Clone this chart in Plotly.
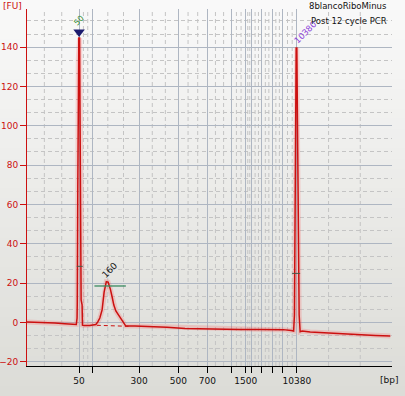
import plotly.graph_objects as go

# ---- data (migration time in s, fluorescence in FU) ----
time_s = [40.0, 44.1, 46.5, 48.8, 50.4, 51.48, 51.66, 51.71, 51.83, 51.94, 52.06, 52.25, 52.36,
          52.53, 52.60, 52.83, 52.92, 53.23, 54.63, 56.03, 56.49, 56.96, 57.49, 57.96, 58.24,
          58.47, 58.89, 59.17, 59.41, 59.83, 60.22, 60.69, 61.16, 61.62, 62.09, 62.56, 63.02,
          65.12, 68.62, 72.59, 76.79, 80.28, 84.95, 89.61, 94.28, 97.78, 99.64, 101.51, 101.86,
          102.09, 102.28, 102.49, 102.56, 102.68, 102.84, 102.96, 103.05, 103.21, 103.38,
          103.61, 104.08, 105.95, 108.28, 112.95, 117.61, 121.11, 124.61]
fu = [0.2, 0.0, -0.3, -0.7, -1.0, -1.1, 2.2, 10.3, 67.3, 133.5, 144.7, 144.7, 113.4,
      75.5, 11.4, 8.9, -1.4, -1.6, -1.6, -1.1, 0.2, 2.2, 6.3, 15.4, 19.5,
      20.7, 20.5, 19.0, 16.9, 12.9, 8.8, 5.8, 4.2, 2.7, 1.2, -0.6, -1.9,
      -1.9, -2.1, -2.5, -3.1, -3.3, -3.4, -3.6, -3.6, -3.7, -3.7, -4.2, -4.4,
      -4.4, 3.7, 62.2, 123.3, 139.6, 139.6, 102.9, 63.8, 62.2, 3.7,
      -4.8, -4.4, -4.9, -5.2, -5.7, -6.5, -6.7, -7.0]

ladder_time = [52.13, 55.16, 66.13, 75.27, 81.99, 87.68, 90.94, 92.34, 94.68, 97.15, 99.58, 102.84]
ladder_labels = ["50", "", "300", "500", "700", "", "1500", "", "", "", "", "10380"]

y_ticks = [-20, 0, 20, 40, 60, 80, 100, 120, 140]

# peak annotations
lower_marker_time, lower_marker_fu, lower_marker_label = 52.13, 147.7, "50"
peak_time, peak_fu, peak_label = 59.3, 26.6, "160"
upper_marker_time, upper_marker_fu, upper_marker_label = 104.9, 147.5, "10380"
region_x = [55.70, 63.02]
region_y = [18.5, 18.5]
base_x = [56.26, 63.63]
base_y = [-1.5, -2.0]
mark1_x = [51.59, 52.99]
mark1_y = [28.5, 28.5]
mark2_x = [101.74, 103.61]
mark2_y = [24.9, 24.9]

X_RANGE = [40, 125]
Y_RANGE = [-22.2, 159.4]

FONT = "DejaVu Sans"
RED = "#cc1010"

fig = go.Figure()

# glow + trace
fig.add_trace(go.Scatter(x=time_s, y=fu, mode="lines",
                         line=dict(color="rgba(255,70,70,0.2)", width=5), hoverinfo="skip"))
fig.add_trace(go.Scatter(x=time_s, y=fu, mode="lines",
                         line=dict(color=RED, width=1.5)))
# dashed baseline under smear region
fig.add_trace(go.Scatter(x=base_x, y=base_y, mode="lines",
                         line=dict(color=RED, width=1, dash="4px,3px")))
# region line
fig.add_trace(go.Scatter(x=region_x, y=region_y, mode="lines",
                         line=dict(color="#3a8a60", width=1.3)))
# small marks
for mx, my in [(mark1_x, mark1_y), (mark2_x, mark2_y)]:
    fig.add_trace(go.Scatter(x=mx, y=my, mode="lines",
                             line=dict(color="#4a5a4a", width=1)))
# lower marker triangle
fig.add_trace(go.Scatter(x=[lower_marker_time], y=[lower_marker_fu], mode="markers",
                         marker=dict(symbol="triangle-down", size=10, color="#1c1c6e")))

# background gradient over the whole figure
W, H = 405, 396
ml, mr, mt, mb = 27, 13, 9, 30
pw, ph = W - ml - mr, H - mt - mb
shapes = []
n = 40
top_c = (249, 249, 249)
bot_c = (220, 220, 215)
for i in range(n):
    t = i / (n - 1)
    c = tuple(int(round(top_c[k] + (bot_c[k] - top_c[k]) * t)) for k in range(3))
    y1 = 1 + mt / ph - i * (H / ph) / n
    y0 = y1 - (H / ph) / n - 0.002
    shapes.append(dict(type="rect", xref="paper", yref="paper",
                       x0=-ml / pw - 0.01, x1=1 + mr / pw + 0.01, y0=y0, y1=y1,
                       fillcolor="rgb(%d,%d,%d)" % c, line=dict(width=0), layer="below"))

# dashed minor vertical gridlines at thirds between vertical lines
edges = [X_RANGE[0]] + ladder_time + [X_RANGE[1]]
for a, b in zip(edges[:-1], edges[1:]):
    for f in (1 / 3, 2 / 3):
        xv = a + (b - a) * f
        shapes.append(dict(type="line", xref="x", yref="paper", x0=xv, x1=xv, y0=0, y1=1,
                           line=dict(color="#c4c4c4", width=1, dash="4px,3px"), layer="below"))

annotations = [
    dict(x=lower_marker_time, y=153.5, text=lower_marker_label, showarrow=False,
         textangle=-45, font=dict(family=FONT, size=8, color="#2e8b2e")),
    dict(x=peak_time, y=peak_fu, text=peak_label, showarrow=False,
         textangle=-45, font=dict(family=FONT, size=9, color="#111111")),
    dict(x=upper_marker_time, y=upper_marker_fu, text=upper_marker_label, showarrow=False,
         textangle=-45, font=dict(family=FONT, size=8.5, color="#8a3ad8")),
    dict(xref="paper", yref="paper", x=(1 - ml) / pw, y=(H - mb - 6) / ph, text="[FU]",
         showarrow=False, xanchor="left", yanchor="middle",
         font=dict(family=FONT, size=9, color=RED)),
    dict(xref="paper", yref="paper", x=(400 - ml) / pw, y=(H - mb - 380) / ph, text="[bp]",
         showarrow=False, xanchor="right", yanchor="middle",
         font=dict(family=FONT, size=9, color="#111111")),
    dict(xref="paper", yref="paper", x=(389 - ml) / pw, y=(H - mb - 6) / ph,
         text="8blancoRiboMinus", showarrow=False, xanchor="right", yanchor="middle",
         font=dict(family=FONT, size=8.5, color="#111111")),
    dict(xref="paper", yref="paper", x=(389 - ml) / pw, y=(H - mb - 21) / ph,
         text="Post 12 cycle PCR", showarrow=False, xanchor="right", yanchor="middle",
         font=dict(family=FONT, size=8.5, color="#111111")),
]

fig.update_layout(
    width=W, height=H,
    margin=dict(l=ml, r=mr, t=mt, b=mb, pad=0, autoexpand=False),
    paper_bgcolor="rgba(0,0,0,0)", plot_bgcolor="rgba(0,0,0,0)",
    showlegend=False,
    shapes=shapes, annotations=annotations,
    xaxis=dict(range=X_RANGE, tickmode="array", tickvals=ladder_time, ticktext=ladder_labels,
               automargin=False,
               showline=True, linecolor="#000000", linewidth=1,
               ticks="outside", ticklen=6, tickcolor="#000000",
               tickfont=dict(family=FONT, size=9, color="#111111"),
               showgrid=True, gridcolor="#aeb6c2", gridwidth=1, zeroline=False),
    yaxis=dict(range=Y_RANGE, tickmode="array", tickvals=y_ticks,
               automargin=False,
               showline=True, linecolor=RED, linewidth=1,
               ticks="outside", ticklen=6, tickcolor=RED,
               tickfont=dict(family=FONT, size=9, color=RED),
               showgrid=True, gridcolor="#aeb6c2", gridwidth=1, zeroline=False,
               minor=dict(tick0=0, dtick=20 / 3, showgrid=True,
                          gridcolor="#c4c4c4", griddash="4px,3px", gridwidth=1, ticks="")),
)

fig.write_html("out.html", config={"displayModeBar": False},
               post_script="document.body.style.margin='0';document.body.style.padding='0';"
                           "document.body.style.background='#dcdcd7';")
